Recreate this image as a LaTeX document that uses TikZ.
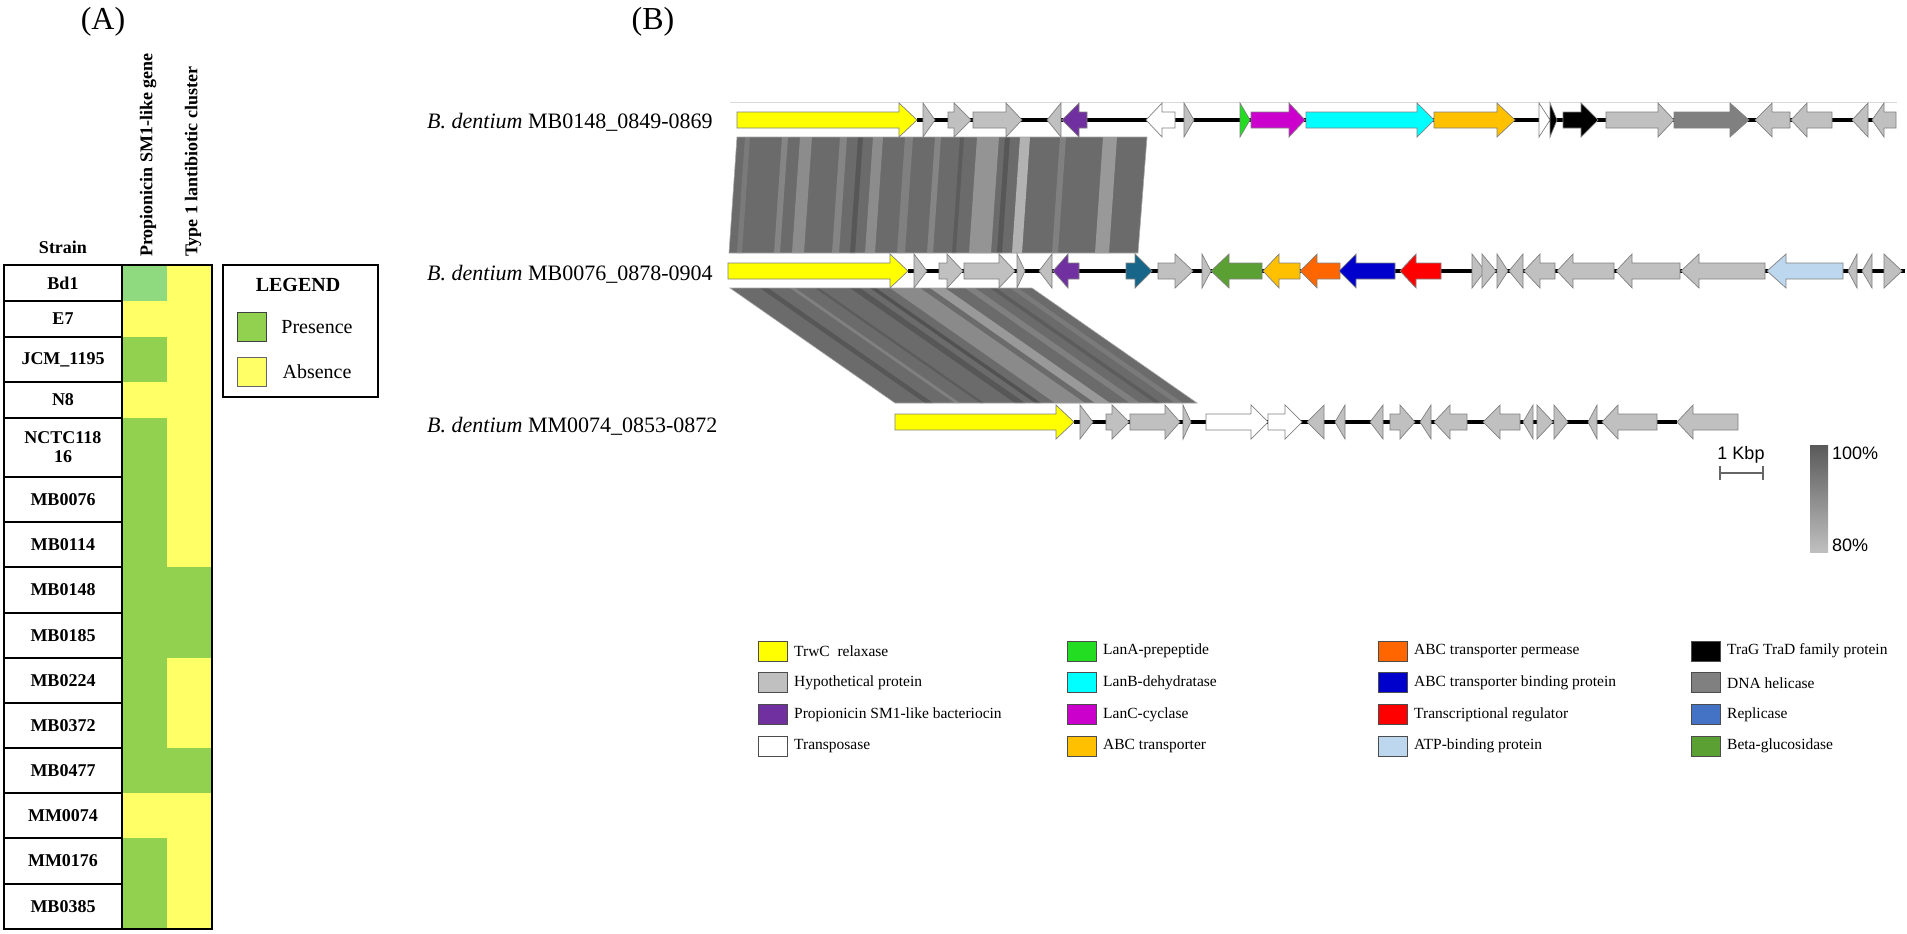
\documentclass[tikz,border=0pt]{standalone}
\usepackage{fontspec}
\setmainfont{Liberation Serif}
\newfontfamily\labsans{Liberation Sans}
\usetikzlibrary{positioning, calc}

\definecolor{trwc}{HTML}{FFFF00}
\definecolor{hyp}{HTML}{C0C0C0}
\definecolor{sm1}{HTML}{7030A0}
\definecolor{lana}{HTML}{22DD22}
\definecolor{lanb}{HTML}{00FFFF}
\definecolor{lanc}{HTML}{CC00CC}
\definecolor{abct}{HTML}{FFC000}
\definecolor{perm}{HTML}{FF6600}
\definecolor{bind}{HTML}{0000CC}
\definecolor{treg}{HTML}{FF0000}
\definecolor{atpb}{HTML}{BDD7EE}
\definecolor{heli}{HTML}{808080}
\definecolor{repl}{HTML}{4472C4}
\definecolor{teal}{HTML}{17668A}
\definecolor{bglu}{HTML}{5BA032}
\definecolor{pres}{HTML}{92D050}
\definecolor{presl}{HTML}{8FDA7E}
\definecolor{abs}{HTML}{FFFF66}

% gene arrows: y, start, head base, tip, colour
\newcommand{\gfwd}[5]{\filldraw[gene,fill=#5] (#2,#1-8) -- (#3,#1-8) -- (#3,#1-17) -- (#4,#1) -- (#3,#1+17) -- (#3,#1+8) -- (#2,#1+8) -- cycle;}
\newcommand{\grev}[5]{\filldraw[gene,fill=#5] (#2,#1) -- (#3,#1-17) -- (#3,#1-8) -- (#4,#1-8) -- (#4,#1+8) -- (#3,#1+8) -- (#3,#1+17) -- cycle;}
\newcommand{\tfwd}[4]{\filldraw[gene,fill=#4] (#2,#1-17) -- (#3,#1) -- (#2,#1+17) -- cycle;}
\newcommand{\trev}[4]{\filldraw[gene,fill=#4] (#3,#1-17) -- (#2,#1) -- (#3,#1+17) -- cycle;}

\begin{document}
\begin{tikzpicture}[x=1pt, y=-1pt,
    gene/.style={draw=black!50, line width=0.7pt},
    backbone/.style={black, line width=3.5pt},
    rowlab/.style={font=\fontsize{18}{19}\selectfont\bfseries, align=center},
    colhead/.style={font=\fontsize{18}{20}\selectfont\bfseries, rotate=90, anchor=west, inner sep=0pt},
    tracklab/.style={font=\fontsize{22}{24}\selectfont, anchor=west, inner sep=0pt},
    legtext/.style={font=\fontsize{15.5}{17}\selectfont, anchor=west, inner sep=0pt},
    swatch/.style={draw=black!70, line width=0.6pt},
    panel/.style={font=\fontsize{32}{34}\selectfont}]
\useasboundingbox (0,0) rectangle (1907,934);

%% panel A
\node[panel] (pa) at (103,22) {(A)};
\node[rowlab] (strain) at (63,247) {Strain};
\node[colhead] (h1) at (148,257) {Propionicin SM1-like gene};
\node[colhead] (h2) at (193,257) {Type 1 lantibiotic cluster};

\foreach \yt/\yb/\lab/\ca/\cb [count=\i] in {265/301/Bd1/presl/abs, 301/337/E7/abs/abs,
    337/382/JCM\_1195/pres/abs, 382/418/N8/abs/abs, 418/477/{NCTC118\\16}/pres/abs,
    477/522/MB0076/pres/abs, 522/567/MB0114/pres/abs, 567/613/MB0148/pres/pres,
    613/658/MB0185/pres/pres, 658/703/MB0224/pres/abs, 703/748/MB0372/pres/abs,
    748/793/MB0477/pres/pres, 793/838/MM0074/abs/abs, 838/884/MM0176/pres/abs,
    884/929/MB0385/pres/abs} {
  \fill[\ca] (122,\yt) rectangle (167,\yb);
  \fill[\cb] (167,\yt) rectangle (212,\yb);
  \draw[line width=1.8pt] (4,\yt) rectangle (122,\yb);
  \node[rowlab] (s\i) at (63,{(\yt+\yb)/2}) {\lab};
}
\draw[line width=1.8pt] (122,265) rectangle (212,929);

% legend
\draw[line width=1.8pt] (223,265) rectangle (378,397);
\node[font=\fontsize{20}{22}\selectfont\bfseries] (lg) at (298,285) {LEGEND};
\filldraw[pres, draw=black!75, line width=0.8pt] (237,312) rectangle (266,341);
\node[font=\fontsize{20}{22}\selectfont] (lp) at (317,327) {Presence};
\filldraw[abs, draw=black!60, line width=0.8pt] (237,357) rectangle (266,386);
\node[font=\fontsize{20}{22}\selectfont] (la) at (317,372) {Absence};

%% panel B
\node[panel] (pb) at (653,22) {(B)};
\node[tracklab] (t1) at (427,122) {\textit{B. dentium} MB0148\_0849-0869};
\node[tracklab] (t2) at (427,274) {\textit{B. dentium} MB0076\_0878-0904};
\node[tracklab] (t3) at (427,426) {\textit{B. dentium} MM0074\_0853-0872};

% similarity blocks
\begin{scope}
  \clip (737,137) -- (1147,137) -- (1138,253) -- (729,253) -- cycle;
  \fill[black!58] (700,130) rectangle (1160,260);
  \foreach \sx/\sw/\sc in {745/5/52, 782/6/48, 800/12/45, 840/7/48, 858/5/66, 873/10/45,
      905/8/50, 935/6/48, 960/4/64, 977/22/42, 1005/5/66, 1020/10/30, 1060/6/50, 1103/14/40}
    \fill[black!\sc] (\sx,137) -- ++(\sw,0) -- ++(-8,116) -- ++(-\sw,0) -- cycle;
\end{scope}
\draw[black!35, line width=0.6pt] (737,137) -- (1147,137) -- (1138,253) -- (729,253) -- cycle;

\begin{scope}
  \clip (730,288) -- (1032,288) -- (1197,403) -- (895,403) -- cycle;
  \fill[black!58] (700,280) rectangle (1210,410);
  \foreach \sx/\sw/\sc in {760/8/66, 790/5/50, 815/4/64, 850/10/66, 870/6/68, 890/30/46,
      930/15/40, 965/10/50, 990/6/64, 1010/8/52}
    \fill[black!\sc] (\sx,288) -- ++(\sw,0) -- ++(165,115) -- ++(-\sw,0) -- cycle;
\end{scope}
\draw[black!35, line width=0.6pt] (730,288) -- (1032,288) -- (1197,403) -- (895,403) -- cycle;

\draw[black!15, line width=0.8pt] (730,102) -- (1897,102);

% track 1
\draw[backbone] (917,120) -- (1896,120);
\gfwd{120}{737}{899}{917}{trwc}
\tfwd{120}{923}{935}{hyp}
\gfwd{120}{948}{954}{971}{hyp}
\gfwd{120}{973}{1006}{1022}{hyp}
\trev{120}{1047}{1061}{hyp}
\grev{120}{1062}{1079}{1087}{sm1}
\grev{120}{1146}{1162}{1175}{white}
\tfwd{120}{1184}{1194}{hyp}
\tfwd{120}{1240}{1250}{lana}
\gfwd{120}{1251}{1289}{1305}{lanc}
\gfwd{120}{1306}{1417}{1434}{lanb}
\gfwd{120}{1434}{1497}{1515}{abct}
\tfwd{120}{1539}{1550}{white}
\tfwd{120}{1550}{1557}{black}
\gfwd{120}{1563}{1581}{1598}{black}
\gfwd{120}{1606}{1658}{1674}{hyp}
\gfwd{120}{1674}{1730}{1749}{heli}
\grev{120}{1755}{1772}{1790}{hyp}
\grev{120}{1791}{1807}{1832}{hyp}
\trev{120}{1852}{1868}{hyp}
\grev{120}{1872}{1884}{1896}{hyp}

% track 2
\draw[backbone] (908,271) -- (1905,271);
\gfwd{271}{728}{890}{908}{trwc}
\tfwd{271}{914}{927}{hyp}
\gfwd{271}{939}{947}{963}{hyp}
\gfwd{271}{964}{999}{1015}{hyp}
\tfwd{271}{1017}{1025}{hyp}
\trev{271}{1039}{1052}{hyp}
\grev{271}{1053}{1068}{1079}{sm1}
\gfwd{271}{1126}{1135}{1152}{teal}
\gfwd{271}{1158}{1175}{1193}{hyp}
\tfwd{271}{1202}{1211}{hyp}
\grev{271}{1211}{1229}{1262}{bglu}
\grev{271}{1263}{1279}{1300}{abct}
\grev{271}{1300}{1317}{1340}{perm}
\grev{271}{1339}{1356}{1395}{bind}
\grev{271}{1400}{1416}{1441}{treg}
\tfwd{271}{1472}{1485}{hyp}
\tfwd{271}{1482}{1496}{hyp}
\tfwd{271}{1497}{1508}{hyp}
\trev{271}{1509}{1523}{hyp}
\grev{271}{1524}{1540}{1555}{hyp}
\grev{271}{1557}{1573}{1614}{hyp}
\grev{271}{1616}{1632}{1680}{hyp}
\grev{271}{1681}{1699}{1765}{hyp}
\grev{271}{1767}{1786}{1843}{atpb}
\trev{271}{1848}{1857}{hyp}
\trev{271}{1862}{1872}{hyp}
\tfwd{271}{1884}{1902}{hyp}

% track 3
\draw[backbone] (1074,422) -- (1677,422);
\gfwd{422}{895}{1056}{1074}{trwc}
\tfwd{422}{1080}{1093}{hyp}
\gfwd{422}{1106}{1112}{1129}{hyp}
\gfwd{422}{1130}{1165}{1180}{hyp}
\tfwd{422}{1183}{1191}{hyp}
\gfwd{422}{1206}{1251}{1268}{white}
\gfwd{422}{1268}{1285}{1302}{white}
\trev{422}{1307}{1324}{hyp}
\trev{422}{1335}{1345}{hyp}
\trev{422}{1370}{1383}{hyp}
\gfwd{422}{1390}{1400}{1415}{hyp}
\trev{422}{1420}{1431}{hyp}
\grev{422}{1434}{1450}{1467}{hyp}
\grev{422}{1483}{1500}{1520}{hyp}
\trev{422}{1523}{1533}{hyp}
\tfwd{422}{1537}{1553}{hyp}
\tfwd{422}{1554}{1568}{hyp}
\trev{422}{1588}{1597}{hyp}
\grev{422}{1602}{1618}{1657}{hyp}
\grev{422}{1677}{1693}{1738}{hyp}

% scale bar and identity key
\node[font=\labsans\fontsize{18}{20}\selectfont] (kbp) at (1741,455) {1 Kbp};
\coordinate (kb0) at (1720,473);
\coordinate (kb1) at (1763,473);
\draw[black!60, line width=1.2pt] (kb0) -- (kb1)
    ($(kb0)+(0,-7)$) -- ($(kb0)+(0,7)$) ($(kb1)+(0,-7)$) -- ($(kb1)+(0,7)$);
\shade[top color=black!65, bottom color=black!25] (1810,445) rectangle (1828,552);
\node[font=\labsans\fontsize{18}{20}\selectfont, anchor=west, inner sep=0pt] (hi) at (1832,453) {100\%};
\node[font=\labsans\fontsize{18}{20}\selectfont, anchor=west, inner sep=0pt] (lo) at (1832,545) {80\%};

% gene legend
\foreach \c/\lab/\sx [count=\i] in {
    trwc/TrwC\ \ relaxase/758, hyp/Hypothetical protein/758,
    sm1/Propionicin SM1-like bacteriocin/758, white/Transposase/758,
    lana/LanA-prepeptide/1067, lanb/LanB-dehydratase/1067,
    lanc/LanC-cyclase/1067, abct/ABC transporter/1067,
    perm/ABC transporter permease/1378, bind/ABC transporter binding protein/1378,
    treg/Transcriptional regulator/1378, atpb/ATP-binding protein/1378,
    black/TraG TraD family protein/1691, heli/DNA helicase/1691,
    repl/Replicase/1691, bglu/Beta-glucosidase/1691} {
  \pgfmathsetmacro{\ly}{651+31.7*mod(\i-1,4)}
  \filldraw[swatch, fill=\c] (\sx,\ly-10) rectangle ++(29,20);
  \node[legtext] (g\i) at (\sx+36,\ly) {\lab};
}
\end{tikzpicture}
\end{document}
